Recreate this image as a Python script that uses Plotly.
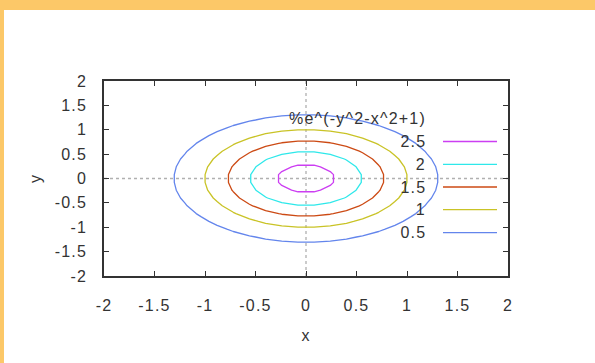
import numpy as np
import plotly.graph_objects as go

# ---- data ----
levels = [2.5, 2, 1.5, 1, 0.5]
level_labels = ["2.5", "2", "1.5", "1", "0.5"]
level_colors = ["#cc3ef2", "#2ee8ea", "#cc4a14", "#c9c326", "#6385ec"]
legend_title = "%e^(-y^2-x^2+1)"
tick_vals = [-2, -1.5, -1, -0.5, 0, 0.5, 1, 1.5, 2]
tick_text = ["-2", "-1.5", "-1", "-0.5", "0", "0.5", "1", "1.5", "2"]

# function grid (coarse sampling like the original)
gx = np.linspace(-2, 2, 26)
gy = np.linspace(-2, 2, 26)
GX, GY = np.meshgrid(gx, gy)
Z = np.exp(-GY**2 - GX**2 + 1)

W, H = 595, 363
L, R, T, B = 104, 508, 81, 276
FONT = "Liberation Sans, Arial, sans-serif"
TXT = "#333333"

fig = go.Figure()
for lv, col in zip(levels, level_colors):
    fig.add_trace(go.Contour(
        x=gx, y=gy, z=Z,
        contours=dict(start=lv, end=lv, size=1, coloring="none"),
        line=dict(color=col, width=1.3, smoothing=0),
        showscale=False, showlegend=False, hoverinfo="skip",
    ))

def px_x(p):
    return (p - L) / (R - L)

def px_y(p):
    return (B - p) / (B - T)

shapes = []
annotations = []
# dotted zero axes
shapes.append(dict(type="line", xref="x", yref="y domain", x0=0, x1=0, y0=0, y1=1,
                   line=dict(color="#b0b0b0", width=1.3, dash="dot"), layer="below"))
shapes.append(dict(type="line", xref="x domain", yref="y", x0=0, x1=1, y0=0, y1=0,
                   line=dict(color="#b0b0b0", width=1.3, dash="dot"), layer="below"))
# page border bands
shapes.append(dict(type="rect", xref="paper", yref="paper",
                   x0=px_x(-2), x1=px_x(W + 2), y0=px_y(10), y1=px_y(-2),
                   fillcolor="#fcc868", line=dict(width=0), layer="below"))
shapes.append(dict(type="rect", xref="paper", yref="paper",
                   x0=px_x(-2), x1=px_x(4), y0=px_y(H + 2), y1=px_y(-2),
                   fillcolor="#fcc868", line=dict(width=0), layer="below"))

# manual gnuplot-style key
annotations.append(dict(text=legend_title, xref="paper", yref="paper",
                        x=px_x(428), y=px_y(118), xanchor="right", yanchor="middle",
                        align="right",
                        showarrow=False, font=dict(family=FONT, size=16, color=TXT)))
key_y = [141.5, 164.3, 187, 209.7, 232.6]
for lab, col, ky in zip(level_labels, level_colors, key_y):
    annotations.append(dict(text=lab, xref="paper", yref="paper",
                            x=px_x(428), y=px_y(ky), xanchor="right", yanchor="middle",
                            align="right",
                            showarrow=False, font=dict(family=FONT, size=16, color=TXT)))
    shapes.append(dict(type="line", xref="paper", yref="paper",
                       x0=px_x(443), x1=px_x(497), y0=px_y(ky), y1=px_y(ky),
                       line=dict(color=col, width=1.3)))

axis_common = dict(
    tickvals=tick_vals, ticktext=tick_text, range=[-2, 2],
    showline=True, linecolor="#333333", linewidth=1.5, mirror="ticks",
    ticks="inside", ticklen=5, tickwidth=1.2, tickcolor="#333333",
    showgrid=False, zeroline=False,
    tickfont=dict(family=FONT, size=16, color=TXT),
)

fig.update_layout(
    width=W, height=H,
    margin=dict(l=L, r=W - R, t=T, b=H - B),
    paper_bgcolor="white", plot_bgcolor="white",
    xaxis=dict(**axis_common, ticklabelstandoff=14,
               title=dict(text="x", font=dict(family=FONT, size=16, color=TXT), standoff=17)),
    yaxis=dict(**axis_common, ticklabelstandoff=12,
               title=dict(text="y", font=dict(family=FONT, size=16, color=TXT), standoff=14)),
    shapes=shapes, annotations=annotations,
    showlegend=False,
)

post = (
    "document.body.style.margin='0';"
    "var st=document.createElement('style');"
    "st.textContent='.main-svg text{letter-spacing:1.2px;}';"
    "document.head.appendChild(st);"
)
fig.write_html("out.html", post_script=post, config={"displayModeBar": False})
